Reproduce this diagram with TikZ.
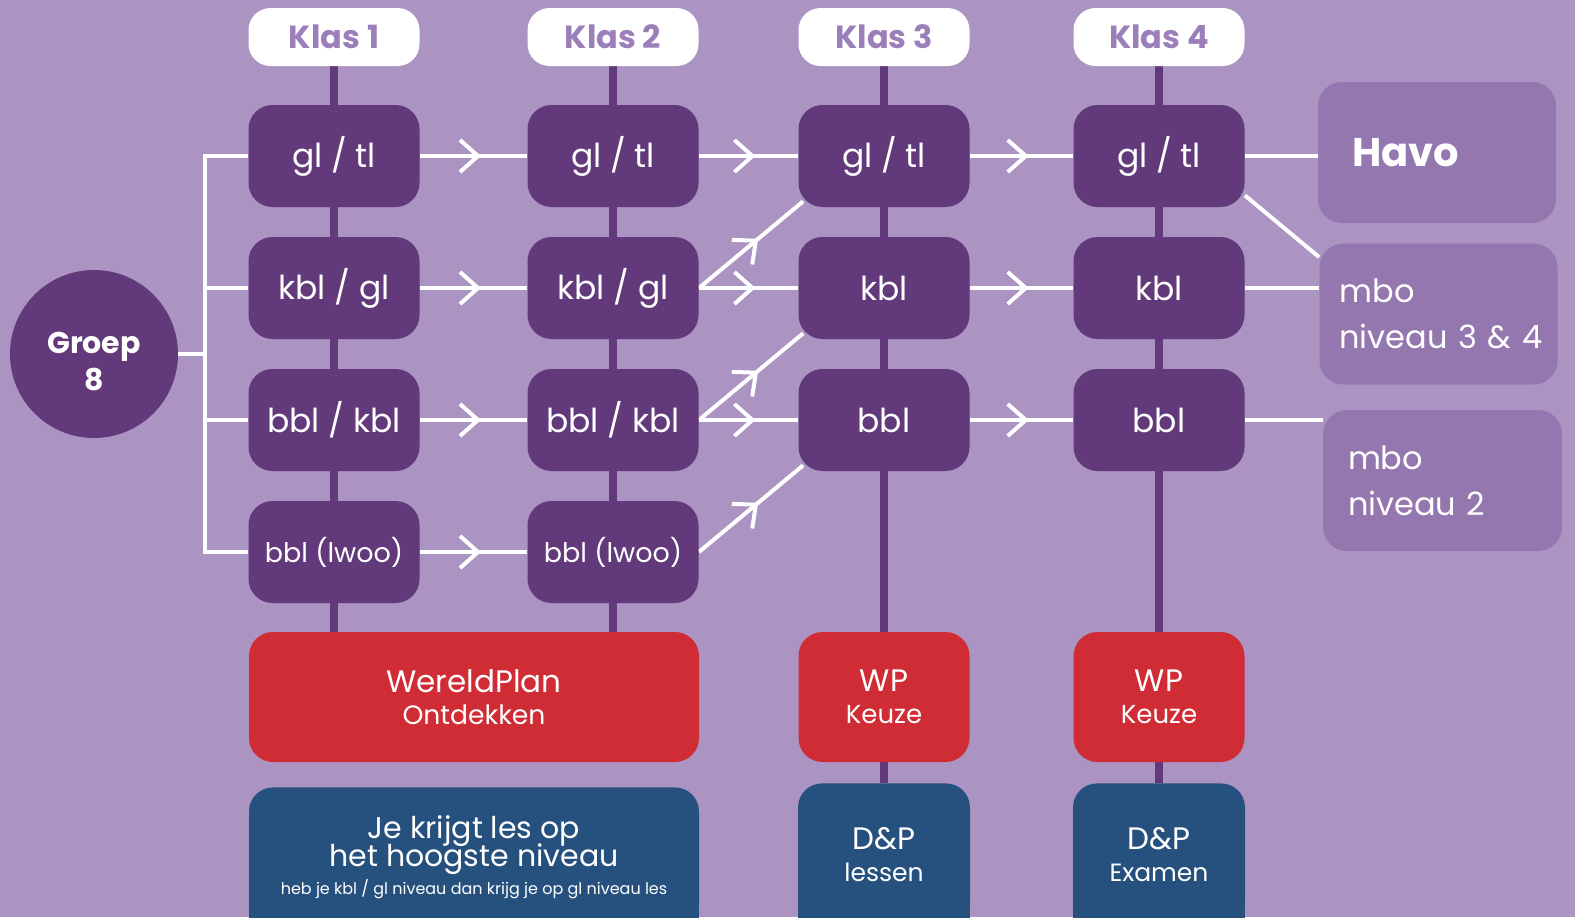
\documentclass[tikz,border=0pt]{standalone}
\usepackage{fontspec}
\setmainfont{Poppins}
\usepackage{xcolor}
\usepackage{tikz}
\usetikzlibrary{arrows.meta,decorations.markings}
\definecolor{bgpurple}{HTML}{AB93C2}
\definecolor{darkpurple}{HTML}{62397B}
\definecolor{klastext}{HTML}{9C7EBA}
\definecolor{outpurple}{HTML}{9577B0}
\definecolor{wpred}{HTML}{D02C35}
\definecolor{dpblue}{HTML}{26507D}
\pgfdeclarelayer{canvas}
\pgfdeclarelayer{lines}
\pgfsetlayers{canvas,lines,main}
\def\boxw{85.5pt}
\def\boxh{51pt}

\begin{document}
\begin{tikzpicture}[x=0.5pt,y=-0.5pt]
	\tikzstyle{klas}=[rectangle,rounded corners=11pt,fill=white,text=klastext,minimum width=\boxw,minimum height=29pt,inner sep=0pt,font=\bfseries\fontsize{16}{18}\selectfont]
	\tikzstyle{level}=[rectangle,rounded corners=12pt,fill=darkpurple,text=white,minimum width=\boxw,minimum height=\boxh,inner sep=0pt,font=\fontsize{16.5}{18}\selectfont]
	\tikzstyle{small level}=[level,font=\fontsize{13.5}{15}\selectfont]
	\tikzstyle{wp}=[rectangle,rounded corners=12pt,fill=wpred,text=white,align=center,minimum width=\boxw,minimum height=65pt,inner sep=0pt,font=\fontsize{15.5}{16}\selectfont]
	\tikzstyle{dp}=[rectangle,rounded corners=12pt,fill=dpblue,text=white,align=center,minimum width=86pt,inner sep=0pt,anchor=north,font=\fontsize{15.5}{16}\selectfont]
	\tikzstyle{uitstroom}=[rectangle,rounded corners=12pt,fill=outpurple,text=white,align=left,minimum height=70.5pt,inner xsep=10pt,text width=99pt,font=\fontsize{16}{23}\selectfont]
	\tikzstyle{spine}=[draw=darkpurple,line width=4pt]
	\tikzstyle{link}=[draw=white,line width=2pt]
	\tikzstyle{flowline}=[link,postaction={decorate},decoration={markings,mark=at position 0.57 with {\arrow{Straight Barb[length=9pt,width=16pt]}}}]

	% Background
	\begin{pgfonlayer}{canvas}
	\fill[bgpurple] (0,0) rectangle (1575,917);
	\end{pgfonlayer}
	\useasboundingbox (0,0) rectangle (1575,917);

	% Draw the Klas headers
	\foreach \c / \x in {1/334,2/613,3/884,4/1159}
	\node[klas] (K-\c) at (\x,37) {Klas \c};

	% Draw the levels of klas 1 and 2
	\foreach \c / \x in {1/334,2/613}
	{
	\node[level] (L-\c-1) at (\x,156) {gl / tl};
	\node[level] (L-\c-2) at (\x,288) {kbl / gl};
	\node[level] (L-\c-3) at (\x,420) {bbl / kbl};
	\node[small level] (L-\c-4) at (\x,552) {bbl (lwoo)};
	}

	% Draw the levels of klas 3 and 4
	\foreach \c / \x in {3/884,4/1159}
	{
	\node[level] (L-\c-1) at (\x,156) {gl / tl};
	\node[level] (L-\c-2) at (\x,288) {kbl};
	\node[level] (L-\c-3) at (\x,420) {bbl};
	}

	% Groep 8
	\node[circle,fill=darkpurple,text=white,minimum size=84pt,inner sep=0pt,align=center,font=\bfseries\fontsize{15}{18.5}\selectfont] (G8) at (94,354) {\mbox{}\\Groep\\8};
	\coordinate (split) at (205,354);

	% WereldPlan boxes
	\node[wp,minimum width=225pt] (WP-12) at (474,697) {WereldPlan\\{\fontsize{13.3}{16}\selectfont Ontdekken}};
	\node[wp] (WP-3) at (884,697) {WP\\{\fontsize{13}{16}\selectfont Keuze}};
	\node[wp] (WP-4) at (1159,697) {WP\\{\fontsize{13}{16}\selectfont Keuze}};

	% D&P boxes
	\node[dp,minimum width=225pt,minimum height=70pt,font={\fontsize{15}{14}\selectfont\lineskiplimit=-10pt\relax}] (DP-12) at (474,787) {Je krijgt les op\\het hoogste niveau\\[0pt]{\fontsize{8}{10}\selectfont heb je kbl / gl niveau dan krijg je op gl niveau les}};
	\node[dp,minimum height=71pt] (DP-3) at (884,783) {D\&P\\{\fontsize{12.5}{16}\selectfont lessen}};
	\node[dp,minimum height=71pt] (DP-4) at (1159,783) {D\&P\\{\fontsize{12.5}{16}\selectfont Examen}};

	% Uitstroom
	\node[uitstroom,inner xsep=17pt,text width=85pt,font=\bfseries\fontsize{20}{24}\selectfont] (Havo) at (1437,152.5) {Havo};
	\node[uitstroom] (M34) at (1438.5,314) {mbo\\niveau~3~\&~4};
	\node[uitstroom,inner xsep=12.5pt,text width=94.5pt] (M2) at (1442.5,480.5) {mbo\\niveau 2};

	\begin{pgfonlayer}{lines}
	% Square bottom of the D&P boxes
	\foreach \b in {12,3,4}
	\fill[dpblue] ([yshift=14pt]DP-\b.south west) rectangle (DP-\b.south east);

	% Vertical lines of each klas
	\foreach \c in {1,2}
	\draw[spine] (K-\c) -- (K-\c |- WP-12.north);
	\foreach \c in {3,4}
	{
	\draw[spine] (K-\c) -- (WP-\c);
	\draw[spine] (WP-\c) -- (DP-\c);
	}

	% Groep 8 to klas 1
	\draw[link] (G8) -- (split);
	\foreach \r in {1,...,4}
	\draw[link] (split) |- (L-1-\r);

	% Connect the levels
	\foreach \r in {1,...,4}
	\draw[flowline] (L-1-\r) -- (L-2-\r);
	\foreach \r in {1,2,3}
	{
	\draw[flowline] (L-2-\r) -- (L-3-\r);
	\draw[flowline] (L-3-\r) -- (L-4-\r);
	}
	\foreach \r / \p in {2/1,3/2,4/3}
	\draw[flowline] (L-2-\r.east) -- ([shift={(5,-6)}]L-3-\p.south west);

	% Klas 4 to uitstroom
	\draw[link] (L-4-1) -- (L-4-1 -| Havo.west);
	\draw[link] ([yshift=6pt]L-4-1.south east) -- ([yshift=-7pt]M34.north west);
	\draw[link] (L-4-2) -- (L-4-2 -| M34.west);
	\draw[link] (L-4-3) -- (L-4-3 -| M2.west);
	\end{pgfonlayer}
\end{tikzpicture}
\end{document}
